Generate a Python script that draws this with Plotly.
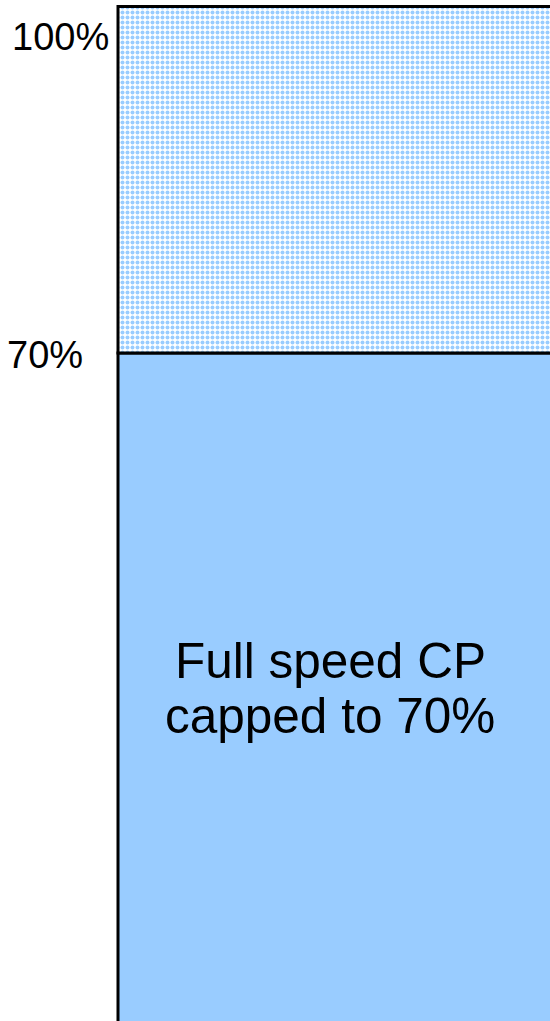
import plotly.graph_objects as go

categories = ["CP"]
capped_values = [70]
headroom_values = [30]
tick_labels = ["100%", "70%"]
bar_text_lines = ["Full speed CP", "capped to 70%"]

FONT = "Liberation Sans, Arial, sans-serif"
H = 1021

fig = go.Figure()
fig.add_trace(go.Bar(
    x=categories, y=capped_values, base=[0], width=1,
    marker=dict(color="#99ccff", line=dict(color="black", width=3)),
    hoverinfo="skip", showlegend=False,
))
fig.add_trace(go.Bar(
    x=categories, y=headroom_values, base=capped_values, width=1,
    marker=dict(color="white", line=dict(color="black", width=3),
                pattern=dict(shape=".", fgcolor="#99ccff", bgcolor="white",
                             size=5, solidity=0.5, fillmode="replace")),
    hoverinfo="skip", showlegend=False,
))

fig.update_layout(
    width=550, height=H,
    margin=dict(l=110, r=0, t=0, b=0),
    paper_bgcolor="white", plot_bgcolor="white",
    barmode="overlay",
    xaxis=dict(type="category", range=[-0.516667, 0.4], visible=False, fixedrange=True),
    yaxis=dict(range=[12.16, 100.56], visible=False, fixedrange=True),
    font=dict(family=FONT, color="black"),
)

for line, ypix in zip(bar_text_lines, [660, 715]):
    fig.add_annotation(text=line, xref="paper", yref="paper", x=0.5, y=1 - ypix / H,
                       showarrow=False, xanchor="center", yanchor="middle",
                       font=dict(size=49.5, family=FONT, color="black"))
fig.add_annotation(text=tick_labels[0], xref="paper", yref="paper",
                   x=(10 - 110) / 440, y=1 - 36.5 / H, showarrow=False,
                   xanchor="left", yanchor="middle",
                   font=dict(size=38, family=FONT, color="black"))
fig.add_annotation(text=tick_labels[1], xref="paper", yref="paper",
                   x=(5 - 110) / 440, y=1 - 354.5 / H, showarrow=False,
                   xanchor="left", yanchor="middle",
                   font=dict(size=38, family=FONT, color="black"))

fig.write_html("out.html", config={"displayModeBar": False, "staticPlot": True},
               post_script="document.body.style.margin='0';document.body.style.padding='0';")
